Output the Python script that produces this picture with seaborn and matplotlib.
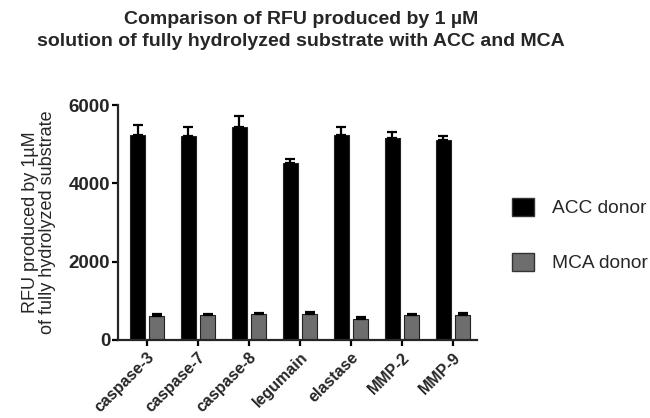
import matplotlib
matplotlib.use("Agg")
import matplotlib.pyplot as plt
import seaborn as sns
import pandas as pd
import numpy as np
from matplotlib.patches import Patch

categories = ["caspase-3", "caspase-7", "caspase-8", "legumain", "elastase", "MMP-2", "MMP-9"]
acc_values = [5240, 5220, 5430, 4530, 5240, 5150, 5105]
acc_errors = [250, 210, 290, 85, 210, 150, 110]
mca_values = [615, 640, 655, 655, 535, 640, 640]
mca_errors = [45, 25, 25, 60, 40, 25, 40]
series = ["ACC donor", "MCA donor"]
colors = ["#000000", "#6e6e6e"]
yticks = [0, 2000, 4000, 6000]

df = pd.DataFrame({
    "cat": categories * 2,
    "val": acc_values + mca_values,
    "err": acc_errors + mca_errors,
    "series": [series[0]] * len(categories) + [series[1]] * len(categories),
})

sns.set_style("ticks")
plt.rcParams["font.family"] = ["Liberation Sans", "DejaVu Sans"]

fig = plt.figure(figsize=(6.5, 4.18), dpi=100)
ax = fig.add_axes([118/650, 1-340/418, (477-118)/650, (340-105)/418])

sns.barplot(data=df, x="cat", y="val", hue="series", palette=colors,
            width=0.75, gap=0.22, errorbar=None, ax=ax, legend=False,
            edgecolor="#222222", linewidth=0.8, saturation=1)

# error bars (upper only) from bar geometry
for container, errs in zip(ax.containers, [acc_errors, mca_errors]):
    for bar, e in zip(container, errs):
        xc = bar.get_x() + bar.get_width() / 2
        h = bar.get_height()
        ax.errorbar([xc], [h], yerr=[[0], [e]], fmt="none", ecolor="black",
                    elinewidth=1.6, capsize=3.3, capthick=1.6, zorder=3)

ax.set_xlim(-0.57, 6.47)
ax.set_ylim(0, 6000)
ax.set_yticks(yticks)
ax.set_yticklabels([str(v) for v in yticks], fontsize=13.5, fontweight="bold")
ax.set_xticks(range(len(categories)))
ax.set_xticklabels(categories, rotation=45, ha="right", rotation_mode="anchor",
                   fontsize=11.5, fontweight="bold")
ax.set_xlabel("")
ax.set_ylabel("RFU produced by 1µM\nof fully hydrolyzed substrate", fontsize=13,
              labelpad=9, linespacing=1.05)
for s in ["left", "bottom"]:
    ax.spines[s].set_linewidth(1.6)
sns.despine(ax=ax)
ax.tick_params(axis="both", width=1.6, length=4, color="black")
ax.tick_params(axis="y", pad=1.5)
ax.tick_params(axis="x", pad=3)

handles = [Patch(facecolor=c, edgecolor="#333333", label=l) for c, l in zip(colors, series)]
fig.legend(handles=handles, loc="center left", bbox_to_anchor=(495/650, 1-235/418),
           frameon=False, fontsize=13.8, handlelength=1.15, handleheight=1.05,
           labelspacing=1.85, handletextpad=0.9)

fig.text(301/650, 1-19/418, "Comparison of RFU produced by 1 µM",
         ha="center", va="center", fontsize=14, fontweight="bold")
fig.text(301/650, 1-42/418, "solution of fully hydrolyzed substrate with ACC and MCA",
         ha="center", va="center", fontsize=14, fontweight="bold")

fig.savefig("out.png", dpi=100)
